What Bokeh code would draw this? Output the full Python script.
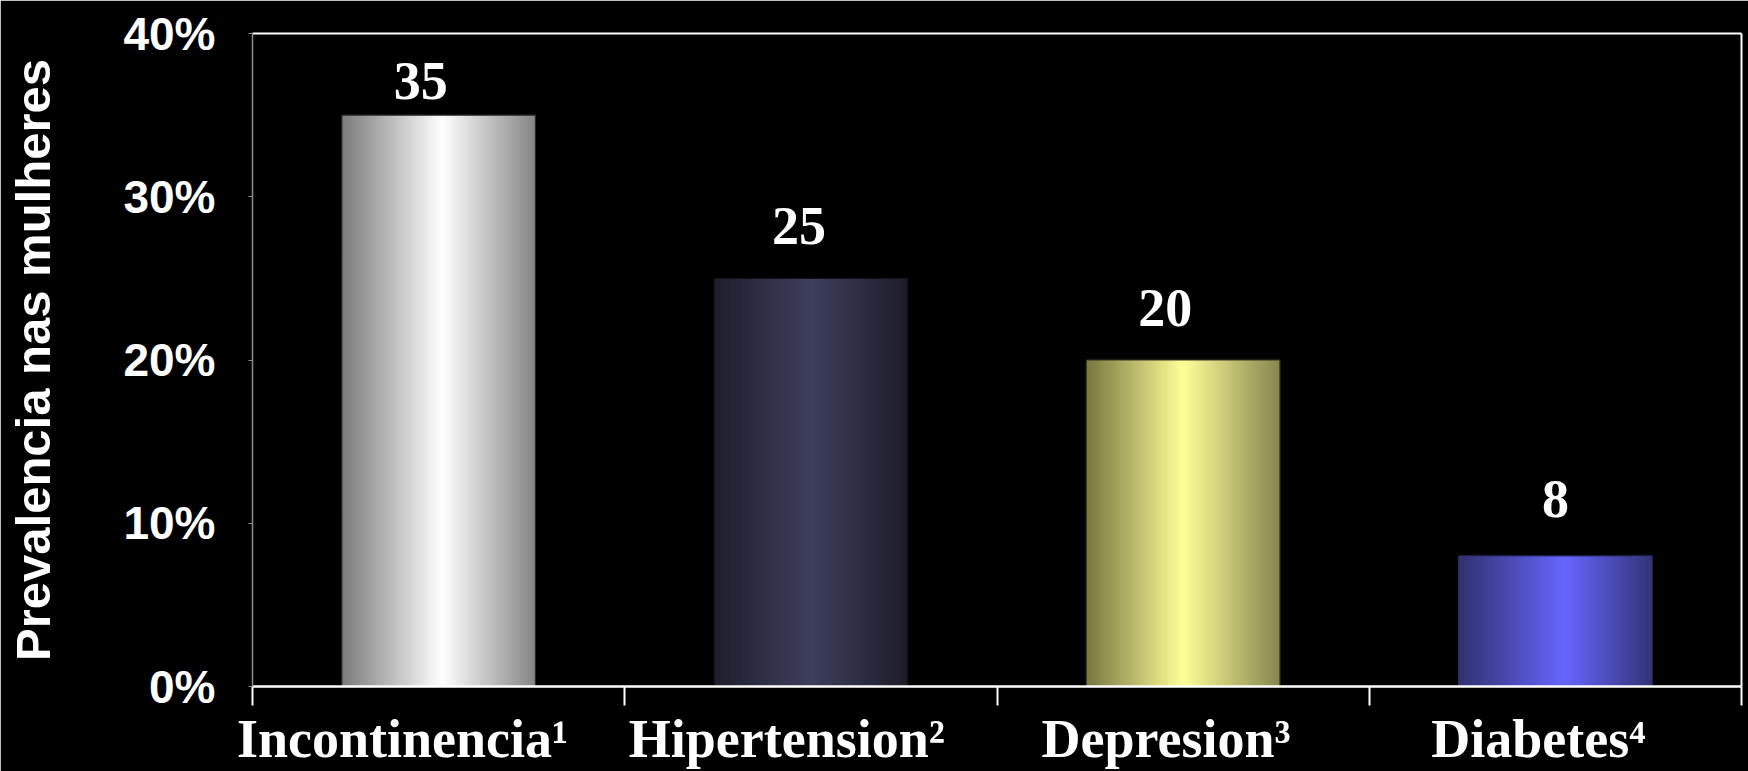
from bokeh.plotting import figure
from bokeh.models import FixedTicker, LinearAxis, Range1d
from bokeh.core.properties import value
from bokeh.embed import file_html
from bokeh.resources import INLINE

# --- data -------------------------------------------------------------
categories = ["Incontinencia", "Hipertension", "Depresion", "Diabetes"]
footnotes = ["\u00b9", "\u00b2", "\u00b3", "\u2074"]
prevalence = [35, 25, 20, 8]
y_ticks = [0, 10, 20, 30, 40]
y_tick_labels = ["0%", "10%", "20%", "30%", "40%"]

# --- styling ------------------------------------------------------------
# horizontal "cylinder" shading of each bar: edge -> highlight -> edge
edge_left = ["#7b7b7b", "#1e1e2c", "#76763f", "#31316f"]
highlight = ["#ffffff", "#3e3e5e", "#ffff99", "#6666ff"]
edge_right = ["#858585", "#1d1d29", "#85854e", "#333377"]
highlight_pos = [0.52, 0.5, 0.5, 0.55]
outline = ["#2a2a2a", "#111118", "#3a3a22", "#2a2a66"]
label_dx = [-18, -12, -18, 0]      # px nudges of the value labels
label_gap = [15, 33, 33, 38]       # px between bar top and digits
cat_dx = [-36, -24, -17, -17]      # px nudges of the category names
BASELINE_FIX = 19                  # text box sits this much below its anchor

FRAME_W = 1489                     # plot area width in px
BAR_W = 0.52
STRIPS = 80

SERIF = "Liberation Serif, DejaVu Serif, serif"
SANS = "Liberation Sans"


def hex_rgb(h):
    return tuple(int(h[i:i + 2], 16) for i in (1, 3, 5))


def mix(a, b, t):
    ra, rb = hex_rgb(a), hex_rgb(b)
    return "#%02x%02x%02x" % tuple(round(x + (y - x) * t) for x, y in zip(ra, rb))


def shade(i, u):
    pk = highlight_pos[i]
    if u <= pk:
        return mix(edge_left[i], highlight[i], u / pk)
    return mix(highlight[i], edge_right[i], (u - pk) / (1 - pk))


n = len(categories)
p = figure(width=1748, height=771, output_backend="svg", toolbar_location=None,
           x_range=Range1d(0, n), y_range=Range1d(y_ticks[0], y_ticks[-1]),
           min_border_left=252, min_border_right=7, min_border_top=33,
           min_border_bottom=85)
p.background_fill_color = "black"
p.border_fill_color = "black"
p.outline_line_color = None
p.grid.visible = False

# --- bars, drawn as thin overlapping strips to get the gradient -------------
for i, v in enumerate(prevalence):
    x0 = i + 0.5 - BAR_W / 2
    x1 = i + 0.5 + BAR_W / 2
    step = BAR_W / STRIPS
    lefts, rights, colors = [], [], []
    for k in range(STRIPS):
        u = (k + 0.5) / STRIPS
        lefts.append(x0 + k * step)
        rights.append(min(x1, x0 + (k + 1.6) * step))
        colors.append(shade(i, u))
    p.quad(left=lefts, right=rights, bottom=0, top=[v] * STRIPS,
           fill_color=colors, line_color=None)
    p.quad(left=[x0], right=[x1], bottom=[0], top=[v], fill_color=None,
           line_color=outline[i], line_width=1.2)

# --- value labels -----------------------------------------------------------
for i, v in enumerate(prevalence):
    p.text(x=[i + 0.5], y=[v], text=[str(v)], x_offset=label_dx[i],
           y_offset=-(label_gap[i] + BASELINE_FIX), text_align="center",
           text_baseline="alphabetic", text_color="white",
           text_font=value(SERIF), text_font_style="bold",
           text_font_size="54px")

# --- x axis: names at the (slightly nudged) centres, ticks at the bounds ----
units_per_px = n / FRAME_W
name_pos = [i + 0.5 + cat_dx[i] * units_per_px for i in range(n)]
xa = p.xaxis[0]
xa.ticker = FixedTicker(ticks=name_pos, minor_ticks=list(range(n + 1)))
xa.major_label_overrides = {pos: c + f for pos, c, f in
                            zip(name_pos, categories, footnotes)}
xa.major_tick_out = 0
xa.major_tick_in = 0
xa.major_tick_line_color = None
xa.minor_tick_out = 19
xa.minor_tick_in = 0
xa.minor_tick_line_color = "white"
xa.minor_tick_line_width = 2
xa.axis_line_color = "white"
xa.axis_line_width = 2.5
xa.major_label_standoff = 3
xa.major_label_text_font = SERIF
xa.major_label_text_font_style = "bold"
xa.major_label_text_font_size = "54px"
xa.major_label_text_color = "white"

ya = p.yaxis[0]
ya.ticker = FixedTicker(ticks=y_ticks)
ya.major_label_overrides = dict(zip(y_ticks, y_tick_labels))
ya.axis_line_color = "#8a8a8a"
ya.axis_line_width = 1.5
ya.major_tick_out = 4
ya.major_tick_in = 0
ya.major_tick_line_color = "#8a8a8a"
ya.minor_tick_line_color = None
ya.major_label_standoff = 33
ya.major_label_text_font = SANS
ya.major_label_text_font_style = "bold"
ya.major_label_text_font_size = "46px"
ya.major_label_text_color = "white"
ya.axis_label = "Prevalencia nas mulheres"
ya.axis_label_text_font = SANS
ya.axis_label_text_font_style = "bold"
ya.axis_label_text_font_size = "49px"
ya.axis_label_text_color = "white"
ya.axis_label_standoff = 60

# plain frame lines on top and right
for side in ("above", "right"):
    ax = LinearAxis(ticker=FixedTicker(ticks=[]), axis_line_color="white",
                    axis_line_width=2, major_tick_line_color=None,
                    minor_tick_line_color=None)
    p.add_layout(ax, side)

open("out.html", "w").write(file_html(p, INLINE))
